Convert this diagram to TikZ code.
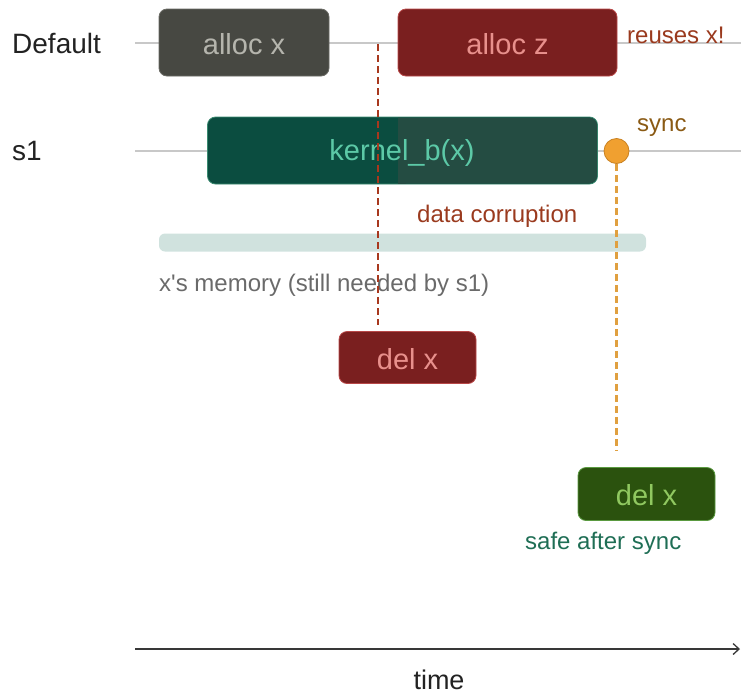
\documentclass[tikz,border=0pt]{standalone}
\usepackage{fontspec}
\setmainfont{Liberation Sans}
\usetikzlibrary{arrows.meta}
\definecolor{lanegray}{HTML}{C8C8C8}
\definecolor{allocxfill}{HTML}{474842}
\definecolor{allocxdraw}{HTML}{6A6A64}
\definecolor{allocxtext}{HTML}{B5B5AD}
\definecolor{redfill}{HTML}{7A1F1F}
\definecolor{reddraw}{HTML}{B84848}
\definecolor{redtext}{HTML}{E8908C}
\definecolor{kernfill}{HTML}{0B4D40}
\definecolor{kerndraw}{HTML}{3A8A70}
\definecolor{kernover}{HTML}{244C42}
\definecolor{kerntext}{HTML}{5CC9A7}
\definecolor{dashred}{HTML}{A8381E}
\definecolor{dashorange}{HTML}{E0A040}
\definecolor{syncfill}{HTML}{F0A030}
\definecolor{syncdraw}{HTML}{C88020}
\definecolor{synctext}{HTML}{8A5A14}
\definecolor{warntext}{HTML}{9A3A1E}
\definecolor{membar}{HTML}{D0E2DE}
\definecolor{memtext}{HTML}{6A6A6A}
\definecolor{greenfill}{HTML}{2B520E}
\definecolor{greendraw}{HTML}{5A9A40}
\definecolor{greentext}{HTML}{90C860}
\definecolor{safetext}{HTML}{1F6E55}
\definecolor{inkdark}{HTML}{222222}
\tikzset{
  opbox/.style={rectangle, rounded corners=8pt, inner sep=0pt, line width=0.8pt,
    font=\fontsize{29}{34}\selectfont},
  lanelabel/.style={anchor=west, inner sep=0pt, text=inkdark, font=\fontsize{28}{32}\selectfont},
  note/.style={inner sep=0pt, font=\fontsize{24}{28}\selectfont},
  lane/.style={draw=lanegray, line width=1.2pt},
  reddash/.style={draw=dashred, line width=2pt, dash pattern=on 7pt off 4pt},
  orangedash/.style={draw=dashorange, line width=2.2pt, dash pattern=on 7pt off 4pt},
}
\begin{document}
\begin{tikzpicture}[x=1pt,y=-1pt]
\useasboundingbox (0,0) rectangle (741,694);
% lanes
\coordinate (d0) at (135,43);
\coordinate (d1) at (741,43);
\coordinate (s0) at (135,151);
\coordinate (s1e) at (741,151);
\draw[lane] (d0) -- (d1);
\draw[lane] (s0) -- (s1e);
\node[lanelabel] (ldef) at (12,43) {Default};
\node[lanelabel] (ls1) at (12,151) {s1};
% boxes
\node[opbox, fill=allocxfill, draw=allocxdraw, text=allocxtext,
  minimum width=170pt, minimum height=67pt] (allocx) at (244,42.5) {};
\node[opbox, text=allocxtext] (allocxt) at (244,44) {alloc x};
\node[opbox, fill=redfill, draw=reddraw, text=redtext,
  minimum width=219pt, minimum height=67pt] (allocz) at (507.5,42.5) {};
\node[opbox, text=redtext] (alloczt) at (507.5,44) {alloc z};
\node[opbox, fill=kernfill, draw=kerndraw,
  minimum width=390pt, minimum height=67pt] (kernel) at (402.5,150.5) {};
\fill[kernover, rounded corners=8pt] (398,117.5) -- (597,117.5) -- (597,183.5) -- (398,183.5) [sharp corners] -- cycle;
\fill[kernover] (398,117.5) rectangle (406,183.5);
\node[opbox, text=kerntext] (kerneltext) at (402,152.5) {kernel\_b(x)};
\node[circle, fill=syncfill, draw=syncdraw, line width=0.8pt, minimum size=25pt, inner sep=0pt] (sync) at (616.5,151) {};
\node[note, text=warntext, anchor=west] (reuses) at (627,35) {reuses x!};
\node[note, text=synctext, anchor=west] (synclbl) at (637,128) {sync};
% memory bar
\node[rectangle, rounded corners=6pt, fill=membar, minimum width=487pt, minimum height=18pt, inner sep=0pt] (mem) at (402.5,242.5) {};
\node[note, text=warntext, anchor=west] (corrupt) at (417,216) {data corruption};
\node[note, text=memtext, anchor=west] (memlbl) at (159,285) {x\textquotesingle s memory (still needed by s1)};
% del boxes
\node[opbox, fill=redfill, draw=reddraw,
  minimum width=137pt, minimum height=52pt] (delred) at (407.5,357.5) {};
\node[opbox, text=redtext] (delredt) at (407.5,359) {del x};
\node[opbox, fill=greenfill, draw=greendraw,
  minimum width=137pt, minimum height=53pt] (delgreen) at (646.5,494) {};
\node[opbox, text=greentext] (delgreent) at (646.5,495.5) {del x};
\node[note, text=safetext, anchor=west] (safe) at (525,543) {safe after sync};
% dashed connectors
\coordinate (rtop) at (378,44);
\coordinate (rbot) at (378,325);
\draw[reddash] (rtop) -- (rbot);
\coordinate (obot) at (616.5,451);
\draw[orangedash] (sync.south) -- (obot);
% time axis
\coordinate (t0) at (135,649);
\coordinate (t1) at (740,649);
\draw[draw=inkdark!90, line width=1.3pt, -{Straight Barb[length=6pt,width=11pt]}] (t0) -- (t1);
\node[inner sep=0pt, text=inkdark, font=\fontsize{27}{32}\selectfont] (timelbl) at (439,680) {time};
\end{tikzpicture}
\end{document}
